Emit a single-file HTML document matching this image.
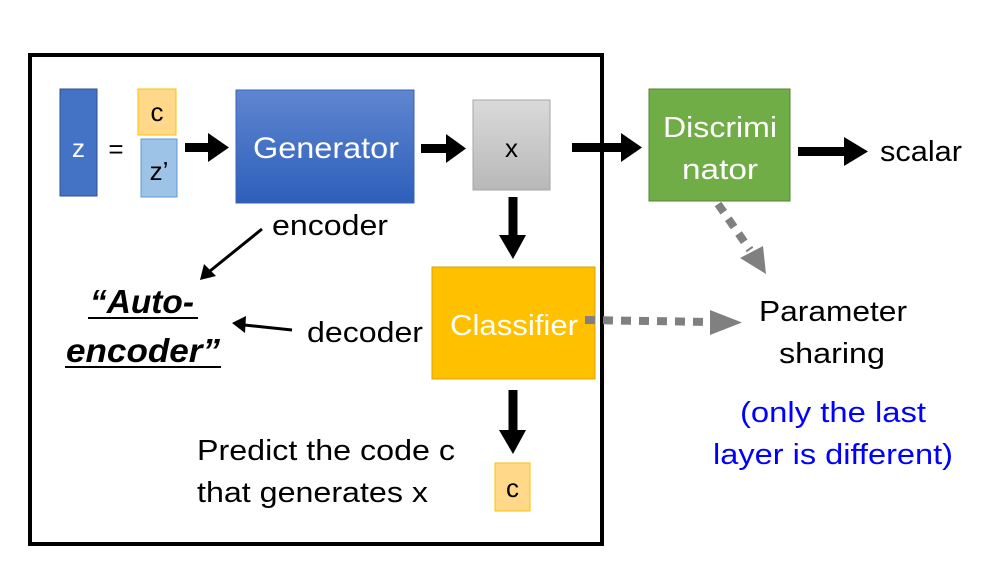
<!DOCTYPE html>
<html><head><meta charset="utf-8"><style>
html,body{margin:0;padding:0;background:#fff;}
svg{display:block;font-family:"Liberation Sans",sans-serif;}
</style></head><body>
<svg width="1002" height="566" viewBox="0 0 1002 566" xmlns="http://www.w3.org/2000/svg">
<defs>
<linearGradient id="g1" x1="0" y1="0" x2="0" y2="1"><stop offset="0" stop-color="#5f86d0"/><stop offset="1" stop-color="#2d5fba"/></linearGradient>
<linearGradient id="g2" x1="0" y1="0" x2="0" y2="1"><stop offset="0" stop-color="#dadada"/><stop offset="1" stop-color="#b8b8b8"/></linearGradient>
</defs>
<rect x="30" y="55" width="572" height="489" fill="none" stroke="#000" stroke-width="4"/>
<rect x="60" y="89" width="37" height="107" fill="#4472c4" stroke="#2f528f"/>
<text x="78.5" y="157" font-size="26" fill="#fff" text-anchor="middle">z</text>
<text x="116" y="158" font-size="26" text-anchor="middle">=</text>
<rect x="138" y="89" width="38" height="46" fill="#ffd88a" stroke="#ffc000"/>
<text x="157" y="121" font-size="26" text-anchor="middle">c</text>
<rect x="141" y="139" width="36" height="58" fill="#9dc3e6" stroke="#5b9bd5"/>
<text x="159" y="180" font-size="26" text-anchor="middle">z’</text>
<g fill="#000">
<rect x="185" y="143" width="24" height="9"/><polygon points="208,133 229,147.5 208,162"/>
<rect x="421" y="144" width="26" height="9"/><polygon points="446,134 466,148.5 446,163"/>
<rect x="572" y="143" width="50" height="9"/><polygon points="621,133 642,147.5 621,162"/>
<rect x="798" y="147" width="48" height="9"/><polygon points="844,137 868,151.5 844,166"/>
<rect x="508.5" y="197" width="9" height="40"/><polygon points="499,235 526,235 513,259"/>
<rect x="508.5" y="390" width="9" height="42"/><polygon points="499,430 526,430 513,454"/>
</g>
<rect x="236" y="90" width="178" height="113" fill="url(#g1)" stroke="#3a62b0"/>
<text x="253" y="158" font-size="30" fill="#fff" textLength="146" lengthAdjust="spacingAndGlyphs">Generator</text>
<rect x="473" y="100" width="77" height="90" fill="url(#g2)" stroke="#a6a6a6"/>
<text x="511.5" y="157" font-size="26" text-anchor="middle">x</text>
<rect x="649" y="89" width="141" height="112" fill="#70ad47" stroke="#548235"/>
<text x="663" y="137" font-size="29" fill="#fff" textLength="114" lengthAdjust="spacingAndGlyphs">Discrimi</text>
<text x="682" y="179" font-size="29" fill="#fff" textLength="76" lengthAdjust="spacingAndGlyphs">nator</text>
<text x="880" y="161" font-size="29" textLength="82" lengthAdjust="spacingAndGlyphs">scalar</text>
<rect x="432" y="267" width="163" height="112" fill="#ffc000" stroke="#d9a300"/>
<text x="450" y="335" font-size="29" fill="#fff" textLength="128" lengthAdjust="spacingAndGlyphs">Classifier</text>
<rect x="495" y="463" width="35" height="48" fill="#ffd88a" stroke="#ffc000"/>
<text x="512.5" y="497" font-size="26" text-anchor="middle">c</text>
<text x="272" y="235" font-size="29" textLength="116" lengthAdjust="spacingAndGlyphs">encoder</text>
<line x1="262" y1="229" x2="210" y2="271" stroke="#000" stroke-width="3"/>
<polygon points="200,280 204,264 216,276" fill="#000"/>
<text x="307" y="342" font-size="29" textLength="116" lengthAdjust="spacingAndGlyphs">decoder</text>
<line x1="292" y1="330" x2="244" y2="325" stroke="#000" stroke-width="3"/>
<polygon points="232,323 246,316 245,333" fill="#000"/>
<text x="90" y="313" font-size="33" font-weight="bold" font-style="italic" textLength="104" lengthAdjust="spacingAndGlyphs">“Auto-</text>
<line x1="88" y1="318" x2="198" y2="318" stroke="#000" stroke-width="2"/>
<text x="66" y="362" font-size="33" font-weight="bold" font-style="italic" textLength="154" lengthAdjust="spacingAndGlyphs">encoder”</text>
<line x1="65" y1="367" x2="221" y2="367" stroke="#000" stroke-width="2"/>
<text x="197" y="460" font-size="29" textLength="258" lengthAdjust="spacingAndGlyphs">Predict the code c</text>
<text x="197" y="502" font-size="29" textLength="231" lengthAdjust="spacingAndGlyphs">that generates x</text>
<line x1="585" y1="320" x2="712" y2="322" stroke="#808080" stroke-width="8" stroke-dasharray="10,8"/>
<polygon points="710,310 742,322.5 710,335" fill="#808080"/>
<line x1="718" y1="204" x2="750" y2="250" stroke="#808080" stroke-width="8" stroke-dasharray="10,8"/>
<polygon points="740,258 763,246 766,274" fill="#808080"/>
<text x="759" y="321" font-size="29" textLength="148" lengthAdjust="spacingAndGlyphs">Parameter</text>
<text x="779" y="363" font-size="29" textLength="106" lengthAdjust="spacingAndGlyphs">sharing</text>
<text x="740" y="422" font-size="29" fill="#0000ff" textLength="186" lengthAdjust="spacingAndGlyphs">(only the last</text>
<text x="713" y="464" font-size="29" fill="#0000ff" textLength="240" lengthAdjust="spacingAndGlyphs">layer is different)</text>
</svg>
</body></html>
